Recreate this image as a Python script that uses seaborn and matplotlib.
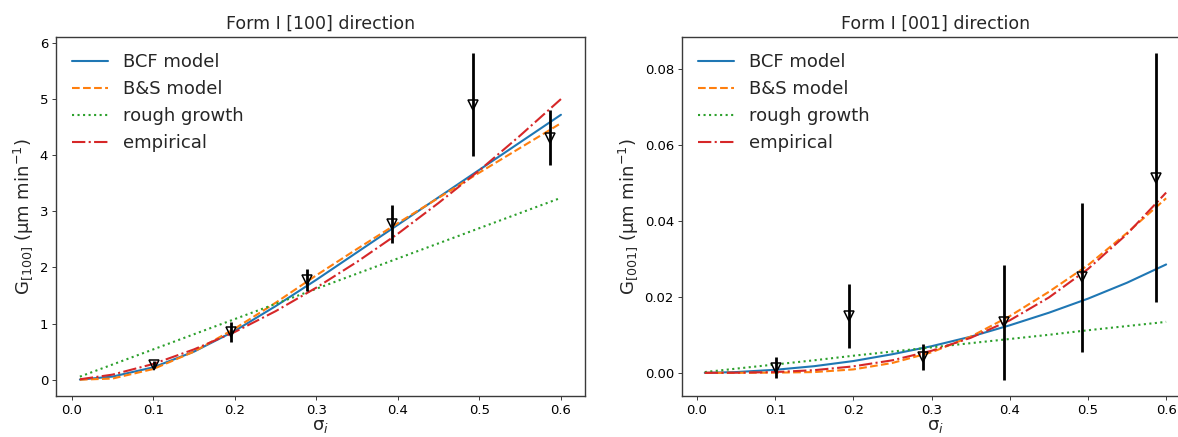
import matplotlib
matplotlib.use("Agg")
import matplotlib.pyplot as plt
import seaborn as sns

# Supersaturation grid on which the growth models are evaluated
sigma_fit = [0.01, 0.05, 0.10, 0.15, 0.20, 0.25, 0.30, 0.35, 0.40, 0.45, 0.50, 0.55, 0.60]

# [100] direction: model growth rates (um/min)
bcf_100 = [0.002, 0.055, 0.22, 0.50, 0.87, 1.31, 1.78, 2.27, 2.76, 3.25, 3.74, 4.23, 4.72]
bs_100 = [0.0, 0.02, 0.19, 0.50, 0.91, 1.37, 1.86, 2.33, 2.79, 3.24, 3.69, 4.13, 4.57]
rough_100 = [0.054, 0.27, 0.54, 0.81, 1.08, 1.35, 1.62, 1.89, 2.16, 2.43, 2.70, 2.97, 3.24]
emp_100 = [0.007, 0.09, 0.28, 0.54, 0.85, 1.22, 1.64, 2.10, 2.60, 3.15, 3.73, 4.35, 5.00]

# [001] direction: model growth rates (um/min)
bcf_001 = [0.0, 0.0002, 0.0008, 0.00175, 0.0031, 0.0049, 0.0070, 0.0095, 0.0125, 0.0158, 0.0195, 0.0237, 0.0285]
bs_001 = [0.0, 0.0, 0.00005, 0.0002, 0.0009, 0.0026, 0.0054, 0.0095, 0.0149, 0.0213, 0.0283, 0.0368, 0.0459]
rough_001 = [0.0002, 0.0011, 0.0022, 0.0033, 0.0045, 0.0056, 0.0067, 0.0078, 0.0089, 0.0100, 0.0112, 0.0123, 0.0134]
emp_001 = [0.0, 0.00003, 0.0002, 0.0007, 0.0017, 0.0033, 0.0058, 0.0092, 0.0138, 0.0198, 0.0273, 0.0365, 0.0474]

# Measured growth rates with standard deviations
sigma_exp = [0.101, 0.195, 0.289, 0.393, 0.492, 0.587]
g100 = [0.27, 0.85, 1.78, 2.78, 4.90, 4.31]
g100_err = [0.06, 0.17, 0.20, 0.34, 0.92, 0.49]
g001 = [0.0014, 0.0149, 0.0041, 0.0133, 0.0251, 0.0513]
g001_err = [0.0027, 0.0085, 0.0034, 0.0151, 0.0196, 0.0328]

model_labels = ["BCF model", "B&S model", "rough growth", "empirical"]
model_styles = ["-", "--", ":", "-."]

sns.set_style("ticks")
plt.rcParams["font.family"] = ["DejaVu Sans"]
plt.rcParams["mathtext.fontset"] = "dejavusans"
plt.rcParams["axes.edgecolor"] = "#3a3a3a"
plt.rcParams["axes.linewidth"] = 1.0
plt.rcParams["xtick.major.size"] = 2.6
plt.rcParams["ytick.major.size"] = 2.6
plt.rcParams["xtick.major.width"] = 0.7
plt.rcParams["ytick.major.width"] = 0.7
plt.rcParams["xtick.color"] = "#3a3a3a"
plt.rcParams["ytick.color"] = "#3a3a3a"
plt.rcParams["xtick.labelcolor"] = "black"
plt.rcParams["ytick.labelcolor"] = "black"

colors = sns.color_palette("tab10")

fig = plt.figure(figsize=(11.78, 4.37), dpi=100)
ax1 = fig.add_axes([0.0474, 0.0938, 0.4492, 0.8222])
ax2 = fig.add_axes([0.5787, 0.0938, 0.4308, 0.8222])

panels = [
    (ax1, [bcf_100, bs_100, rough_100, emp_100], g100, g100_err,
     "Form I [100] direction", r"G$_{[100]}$ (μm min$^{-1}$)", [0, 1, 2, 3, 4, 5, 6]),
    (ax2, [bcf_001, bs_001, rough_001, emp_001], g001, g001_err,
     "Form I [001] direction", r"G$_{[001]}$ (μm min$^{-1}$)", [0.0, 0.02, 0.04, 0.06, 0.08]),
]

for ax, models, g, gerr, title, ylabel, yticks in panels:
    for i, (vals, lab, ls) in enumerate(zip(models, model_labels, model_styles)):
        sns.lineplot(x=sigma_fit, y=vals, ax=ax, color=colors[i], label=lab,
                     linestyle=ls, linewidth=1.5)
    ax.errorbar(sigma_exp, g, yerr=gerr, fmt="v", mfc="none", mec="black",
                mew=1.1, ms=7, ecolor="black", elinewidth=2.0, capsize=0, zorder=5)
    ax.set_title(title, fontsize=12.5, pad=6)
    ax.set_xlabel("σ$_i$", fontsize=13, labelpad=0)
    ax.set_ylabel(ylabel, fontsize=13)
    ax.set_xticks([0.0, 0.1, 0.2, 0.3, 0.4, 0.5, 0.6])
    ax.set_yticks(yticks)
    ax.tick_params(labelsize=9.5, pad=3)
    ax.legend(loc="upper left", frameon=False, fontsize=13)

ax2.set_yticklabels(["0.00", "0.02", "0.04", "0.06", "0.08"])

fig.savefig("out.png", dpi=100)
